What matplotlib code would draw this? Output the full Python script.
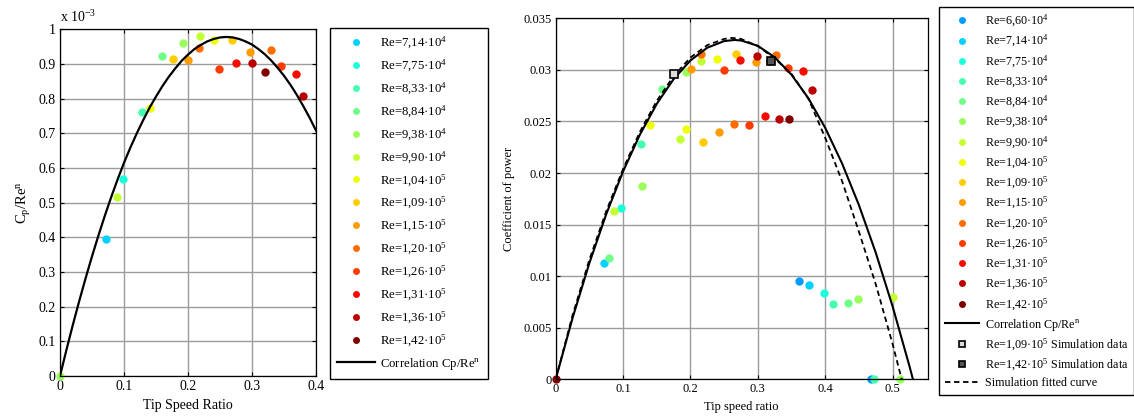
import matplotlib
matplotlib.use("Agg")
import matplotlib.pyplot as plt
import numpy as np
from matplotlib.lines import Line2D

plt.rcParams['font.family'] = ['Liberation Serif', 'DejaVu Serif']
plt.rcParams['mathtext.fontset'] = 'custom'
plt.rcParams['mathtext.rm'] = 'Liberation Serif'
plt.rcParams['mathtext.it'] = 'Liberation Serif:italic'

# ---- left plot: Cp/Re^n (x 1e-3) vs tip speed ratio ----
re_left = ["7,14·10$^4$", "7,75·10$^4$", "8,33·10$^4$", "8,84·10$^4$", "9,38·10$^4$",
           "9,90·10$^4$", "1,04·10$^5$", "1,09·10$^5$", "1,15·10$^5$", "1,20·10$^5$",
           "1,26·10$^5$", "1,31·10$^5$", "1,36·10$^5$", "1,42·10$^5$"]
tsr_left = [[0.072], [0.098], [0.128], [0.159], [0.0, 0.192], [0.0885, 0.218],
            [0.140, 0.241], [0.177, 0.268], [0.2005, 0.297], [0.217, 0.329],
            [0.249, 0.346], [0.275, 0.368], [0.3005, 0.379], [0.321]]
cpn_left = [[0.396], [0.568], [0.762], [0.922], [0.0, 0.961], [0.516, 0.982],
            [0.774, 0.968], [0.913, 0.969], [0.911, 0.934], [0.945, 0.940],
            [0.885, 0.895], [0.902, 0.871], [0.902, 0.809], [0.876]]
corr_left_x = [0, 0.01, 0.02, 0.03, 0.04, 0.05, 0.06, 0.07, 0.08, 0.09, 0.10,
               0.11, 0.12, 0.13, 0.14, 0.15, 0.16, 0.17, 0.18, 0.19, 0.20,
               0.21, 0.22, 0.23, 0.24, 0.25, 0.26, 0.27, 0.28, 0.29, 0.30,
               0.31, 0.32, 0.33, 0.34, 0.35, 0.36, 0.37, 0.38, 0.39, 0.40]
corr_left_y = [0, 0.075, 0.147, 0.216, 0.282, 0.345, 0.405, 0.462, 0.516, 0.567, 0.615,
               0.659, 0.700, 0.738, 0.774, 0.806, 0.836, 0.863, 0.887, 0.909, 0.927,
               0.943, 0.955, 0.965, 0.972, 0.9765, 0.978, 0.9765, 0.972, 0.965, 0.956,
               0.943, 0.928, 0.910, 0.889, 0.866, 0.840, 0.811, 0.779, 0.745, 0.708]

# ---- right plot: coefficient of power vs tip speed ratio ----
re_right = ["6,60·10$^4$"] + re_left
tsr_right = [[0.3605, 0.4674], [0.0717, 0.3754], [0.0964, 0.398], [0.127, 0.411, 0.4728],
             [0.0792, 0.158, 0.4337], [0.1276, 0.1929, 0.448, 0.5104],
             [0.087, 0.185, 0.216, 0.501], [0.1404, 0.1929, 0.2398], [0.2186, 0.2675],
             [0.2003, 0.2423, 0.2967], [0.216, 0.264, 0.3273], [0.249, 0.2868, 0.345],
             [0.2739, 0.311, 0.3674, 0.318], [0.2987, 0.3318, 0.3798], [0.0, 0.3461]]
cp_right = [[0.00954, 0.0], [0.01126, 0.00912], [0.01662, 0.00841], [0.0228, 0.00731, 0.0],
            [0.0118, 0.02817, 0.00737], [0.01876, 0.02979, 0.00783, 0.0],
            [0.01627, 0.02326, 0.03089, 0.00802], [0.0247, 0.02429, 0.03108], [0.0230, 0.03154],
            [0.03005, 0.0240, 0.03079], [0.03157, 0.02471, 0.03147], [0.02995, 0.02461, 0.0302],
            [0.03092, 0.02552, 0.02988, 0.0309], [0.03134, 0.02523, 0.02807], [0.0, 0.02523]]
corr_right_x = [0, 0.025, 0.05, 0.075, 0.1, 0.125, 0.15, 0.175, 0.2, 0.225, 0.25, 0.265,
                0.275, 0.3, 0.325, 0.35, 0.375, 0.4, 0.425, 0.45, 0.475, 0.5, 0.525, 0.5301]
corr_right_y = [0, 0.00594, 0.01127, 0.01601, 0.02016, 0.02373, 0.02671, 0.02911, 0.03092,
                0.03215, 0.03279, 0.0329, 0.03285, 0.03233, 0.03122, 0.02952, 0.02724,
                0.02437, 0.02092, 0.01688, 0.01226, 0.00705, 0.00126, 0.0]
fit_x = [0, 0.025, 0.05, 0.075, 0.1, 0.125, 0.15, 0.175, 0.2, 0.225, 0.25, 0.262,
         0.275, 0.3, 0.325, 0.35, 0.375, 0.4, 0.425, 0.45, 0.475, 0.5, 0.5134]
fit_y = [0, 0.0062, 0.0116, 0.0163, 0.0204, 0.0240, 0.0270, 0.0294, 0.0312,
         0.0324, 0.0330, 0.0331, 0.0330, 0.0323, 0.0311, 0.0296, 0.0272, 0.0234,
         0.0192, 0.0143, 0.0092, 0.0034, 0.0]
sim_109 = (0.176, 0.0296)
sim_142 = (0.319, 0.0309)

cols = plt.cm.jet(np.linspace(0.28, 1.0, 15))
cols_left = cols[1:]

fig = plt.figure(figsize=(11.34, 4.19), dpi=100)
gridc = '#9c9c9c'

def style(ax):
    ax.grid(True, color=gridc, lw=1.0)
    ax.set_axisbelow(True)
    ax.tick_params(direction='in', top=True, right=True, length=3, width=0.8,
                   labelsize=10, pad=3)
    for s in ax.spines.values():
        s.set_linewidth(0.9)

ax1 = fig.add_axes([60 / 1134, 1 - 376 / 419, 256 / 1134, 346.7 / 419])
for i in range(len(re_left)):
    ax1.plot(tsr_left[i], cpn_left[i], 'o', color=cols_left[i], ms=6, mec='none', clip_on=False)
ax1.plot(corr_left_x, corr_left_y, color='k', lw=1.6)
ax1.set_xlim(0, 0.4)
ax1.set_ylim(0, 1)
ax1.set_xticks([0, 0.1, 0.2, 0.3, 0.4])
ax1.set_xticklabels(['0', '0.1', '0.2', '0.3', '0.4'])
ax1.set_yticks(np.arange(0, 1.01, 0.1))
ax1.set_yticklabels(['0', '0.1', '0.2', '0.3', '0.4', '0.5', '0.6', '0.7', '0.8', '0.9', '1'])
style(ax1)
ax1.set_xlabel('Tip Speed Ratio', fontsize=10, labelpad=4)
ax1.set_ylabel('C$_\\mathregular{p}$/Re$^\\mathregular{n}$', fontsize=10.5, labelpad=4)
ax1.text(0.0, 1.012, 'x 10$^{-3}$', transform=ax1.transAxes, fontsize=10, ha='left', va='bottom')

h1 = [Line2D([], [], ls='none', marker='o', color=cols_left[i], ms=5, mec='none') for i in range(14)]
h1.append(Line2D([], [], color='k', lw=1.6))
l1 = ['Re=' + r for r in re_left] + ['Correlation Cp/Re$^\\mathregular{n}$']
fig.legend(h1, l1, loc='upper left', bbox_to_anchor=(330 / 1134, 1 - 28 / 419), fontsize=9.2,
           frameon=True, fancybox=False, edgecolor='k', framealpha=1, borderpad=0.55,
           labelspacing=0.53, handlelength=3.0, handletextpad=0.38, borderaxespad=0)

ax2 = fig.add_axes([555.7 / 1134, 1 - 379.3 / 419, 372 / 1134, 361 / 419])
for i in range(len(re_right)):
    ax2.plot(tsr_right[i], cp_right[i], 'o', color=cols[i], ms=6, mec='none', clip_on=False)
ax2.plot(corr_right_x, corr_right_y, color='k', lw=1.5)
ax2.plot(fit_x, fit_y, color='k', lw=1.3, ls=(0, (3, 2)))
ax2.plot(*sim_109, 's', ms=6, mfc='#dddddd', mec='k', mew=1.2)
ax2.plot(*sim_142, 's', ms=6, mfc='#555555', mec='k', mew=1.2)
ax2.set_xlim(0, 0.552)
ax2.set_ylim(0, 0.035)
ax2.set_xticks([0, 0.1, 0.2, 0.3, 0.4, 0.5])
ax2.set_xticklabels(['0', '0.1', '0.2', '0.3', '0.4', '0.5'])
ax2.set_yticks(np.arange(0, 0.0351, 0.005))
ax2.set_yticklabels(['0', '0.005', '0.01', '0.015', '0.02', '0.025', '0.03', '0.035'])
style(ax2)
ax2.tick_params(labelsize=9)
ax2.set_xlabel('Tip speed ratio', fontsize=9, labelpad=4)
ax2.set_ylabel('Coefficient of power', fontsize=9, labelpad=6)

h2 = [Line2D([], [], ls='none', marker='o', color=cols[i], ms=5, mec='none') for i in range(15)]
h2.append(Line2D([], [], color='k', lw=1.5))
h2.append(Line2D([], [], ls='none', marker='s', ms=5, mfc='#dddddd', mec='k', mew=1.2))
h2.append(Line2D([], [], ls='none', marker='s', ms=5, mfc='#555555', mec='k', mew=1.2))
h2.append(Line2D([], [], color='k', lw=1.3, ls=(0, (3, 2))))
l2 = (['Re=' + r for r in re_right] + ['Correlation Cp/Re$^\\mathregular{n}$',
      'Re=1,09·10$^5$ Simulation data', 'Re=1,42·10$^5$ Simulation data',
      'Simulation fitted curve'])
fig.legend(h2, l2, loc='upper left', bbox_to_anchor=(939 / 1134, 1 - 7 / 419), fontsize=8.7,
           frameon=True, fancybox=False, edgecolor='k', framealpha=1, borderpad=0.5,
           labelspacing=0.34, handlelength=2.85, handletextpad=0.42, borderaxespad=0)

fig.savefig('out.png', dpi=100)
